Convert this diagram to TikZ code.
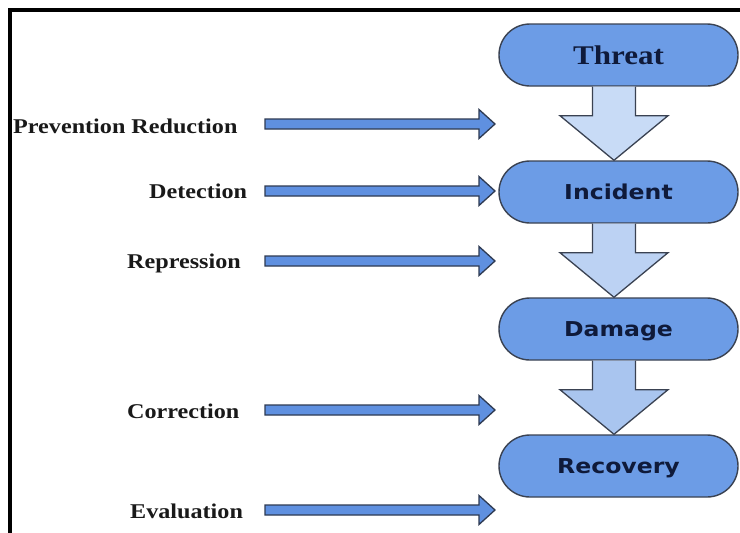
\documentclass[tikz,border=0pt]{standalone}
\usepackage{fontspec}
\usepackage{graphicx}
\setmainfont{Liberation Serif}
\newfontfamily\boxsans{DejaVu Sans}
\usetikzlibrary{calc}

\definecolor{boxfill}{HTML}{6C9CE6}
\definecolor{boxline}{HTML}{3A4252}
\definecolor{boxtext}{HTML}{0F1A3A}
\definecolor{flowA}{HTML}{C8DBF6}
\definecolor{flowB}{HTML}{BCD2F3}
\definecolor{flowC}{HTML}{A9C5EF}
\definecolor{sidefill}{HTML}{5F90E0}
\definecolor{sideline}{HTML}{2E3A52}

% slightly widened lettering
\newcommand\widetext[1]{\scalebox{1.15}[1]{#1}}

% vertical block arrow from the bottom of one stage to the top of the next
\newcommand\flowarrow[3]{%
  \draw[flowarrow,fill=#3]
    ($(#1.south)+(-26,0)$) -- ($(#1.south)+(-26,29)$) -- ($(#1.south)+(-58.5,29)$)
    -- ($(#2.north)+(-4.5,0)$)
    -- ($(#1.south)+(49.5,29)$) -- ($(#1.south)+(17,29)$) -- ($(#1.south)+(17,0)$);}

% horizontal block arrow between two named coordinates
\newcommand\sidearrow[2]{%
  \draw[sidearrow]
    ($(#1)+(0,-5)$) -- ($(#2)+(-16,-5)$) -- ($(#2)+(-16,-14.5)$) -- (#2)
    -- ($(#2)+(-16,14.5)$) -- ($(#2)+(-16,5)$) -- ($(#1)+(0,5)$) -- cycle;}

\tikzset{
  stage/.style={draw=boxline, line width=1.4pt, fill=boxfill, rounded corners=31pt,
    minimum width=239pt, minimum height=62pt, inner sep=0pt, text=boxtext,
    text depth=0pt},
  stagesans/.style={stage, text height=15pt,
    font=\boxsans\bfseries\fontsize{20.5}{24}\selectfont},
  stageserif/.style={stage, text height=18pt,
    font=\bfseries\fontsize{27}{30}\selectfont},
  measure/.style={anchor=base west, inner sep=0pt, text=black!90,
    font=\bfseries\fontsize{21}{25}\selectfont},
  flowarrow/.style={draw=boxline, line width=1.3pt, line join=miter},
  sidearrow/.style={draw=sideline, fill=sidefill, line width=1.3pt, line join=miter},
  frame/.style={draw=black, line width=4pt}
}

\begin{document}
\begin{tikzpicture}[x=1pt, y=-1pt]
  \useasboundingbox (0,0) rectangle (740,533);
  \fill[white] (0,0) rectangle (740,533);

  % outer frame, open towards the right and bottom
  \draw[frame] (9.5,540) -- (9.5,10) -- (745,10);

  % stages
  \node[stageserif] (threat)   at (618.5,55)  {\widetext{Threat}};
  \node[stagesans]  (incident) at (618.5,192) {\widetext{Incident}};
  \node[stagesans]  (damage)   at (618.5,329) {\widetext{Damage}};
  \node[stagesans]  (recovery) at (618.5,466) {\widetext{Recovery}};

  \flowarrow{threat}{incident}{flowA}
  \flowarrow{incident}{damage}{flowB}
  \flowarrow{damage}{recovery}{flowC}

  % measures
  \node[measure] (prev) at (13,133)  {\widetext{Prevention Reduction}};
  \node[measure] (det)  at (149,198) {\widetext{Detection}};
  \node[measure] (rep)  at (127,268) {\widetext{Repression}};
  \node[measure] (cor)  at (127,418) {\widetext{Correction}};
  \node[measure] (eva)  at (130,518) {\widetext{Evaluation}};

  \coordinate (prevS) at (265,124); \coordinate (prevE) at (495,124);
  \coordinate (detS)  at (265,191); \coordinate (detE)  at (495,191);
  \coordinate (repS)  at (265,261); \coordinate (repE)  at (495,261);
  \coordinate (corS)  at (265,410); \coordinate (corE)  at (495,410);
  \coordinate (evaS)  at (265,510); \coordinate (evaE)  at (495,510);

  \sidearrow{prevS}{prevE}
  \sidearrow{detS}{detE}
  \sidearrow{repS}{repE}
  \sidearrow{corS}{corE}
  \sidearrow{evaS}{evaE}
\end{tikzpicture}
\end{document}
